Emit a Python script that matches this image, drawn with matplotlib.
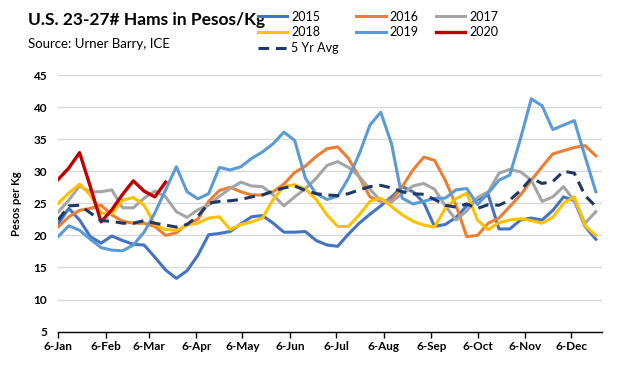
import matplotlib
matplotlib.use("Agg")
import matplotlib.pyplot as plt
import matplotlib.dates as mdates
import pandas as pd

plt.rcParams['font.family'] = ['Lato', 'DejaVu Sans']

dates = pd.date_range("2019-01-06", periods=51, freq="7D")

y2015 = [21.8, 24.2, 22.4, 19.8, 18.8, 19.9, 19.2, 18.6, 18.5, 16.6, 14.6, 13.3, 14.5, 16.9, 20.1, 20.3, 20.6,
         21.8, 22.9, 23.1, 21.9, 20.5, 20.5, 20.6, 19.2, 18.5, 18.3, 20.2, 21.9, 23.3, 24.6, 26.0, 27.6, 26.8,
         25.1, 21.4, 21.7, 22.8, 24.6, 25.6, 26.3, 21.0, 21.0, 22.4, 22.7, 22.4, 23.9, 26.0, 25.4, 21.4, 19.4]
y2016 = [21.3, 22.9, 23.9, 24.2, 24.7, 23.2, 22.2, 21.9, 21.9, 21.4, 20.0, 20.4, 21.8, 22.5, 25.3, 27.0, 27.5,
         26.8, 26.3, 26.3, 26.8, 28.0, 29.8, 30.8, 32.3, 33.5, 33.8, 32.0, 29.1, 26.0, 25.3, 25.5, 27.6, 30.2,
         32.2, 31.7, 28.6, 24.7, 19.8, 20.0, 21.9, 22.7, 24.5, 26.3, 28.6, 30.7, 32.7, 33.2, 33.7, 34.0, 32.4]
y2017 = [23.6, 25.5, 27.7, 26.8, 26.8, 27.1, 24.3, 24.3, 25.8, 26.9, 26.0, 23.7, 22.8, 24.0, 24.7, 26.1, 27.3,
         28.3, 27.7, 27.6, 26.3, 24.6, 26.0, 27.3, 28.9, 30.9, 31.5, 30.6, 29.2, 27.2, 25.4, 25.2, 26.5, 27.7,
         28.1, 27.2, 24.6, 22.4, 23.8, 25.9, 26.8, 29.7, 30.3, 29.9, 28.6, 25.3, 26.0, 27.6, 25.4, 21.9, 23.7]
y2018 = [25.0, 26.6, 28.0, 26.3, 23.5, 23.4, 25.5, 25.9, 24.7, 21.7, 20.9, 20.8, 21.6, 21.9, 22.7, 22.9, 20.9,
         21.7, 22.1, 22.7, 25.6, 27.6, 27.9, 27.2, 25.6, 23.2, 21.4, 21.4, 23.2, 25.3, 25.8, 24.5, 23.2, 22.2,
         21.6, 21.3, 24.2, 25.7, 26.6, 22.4, 20.9, 22.0, 22.4, 22.6, 22.3, 21.9, 22.8, 25.0, 26.0, 21.5, 20.0]
y2019 = [19.8, 21.5, 20.8, 19.4, 18.1, 17.7, 17.6, 18.5, 20.5, 23.5, 27.1, 30.7, 26.8, 25.7, 26.5, 30.6, 30.2,
         30.7, 32.0, 33.0, 34.3, 36.1, 34.8, 28.9, 26.5, 25.6, 26.1, 28.9, 32.7, 37.2, 39.2, 34.3, 25.8, 24.9,
         25.3, 25.8, 25.8, 27.1, 27.3, 24.8, 26.6, 28.6, 29.4, 35.1, 41.3, 40.2, 36.5, 37.2, 37.9, 32.3, 26.8]
y2020 = [28.7, 30.5, 32.9, 27.6, 22.1, 24.0, 26.4, 28.5, 26.9, 26.0, 28.3]
avg5 = [22.4, 24.6, 24.7, 23.5, 22.3, 22.2, 21.9, 21.9, 22.3, 21.9, 21.6, 21.3, 21.7, 23.0, 25.0, 25.3, 25.4,
        25.6, 26.0, 26.3, 26.9, 27.4, 27.7, 27.0, 26.5, 26.3, 26.2, 26.5, 27.1, 27.6, 27.8, 27.4, 26.8, 26.5,
        26.4, 25.6, 24.7, 24.4, 24.9, 24.2, 24.8, 24.7, 25.5, 27.0, 28.9, 28.1, 28.4, 30.0, 29.7, 26.2, 24.5]

fig = plt.figure(figsize=(6.31, 3.66), dpi=100)
ax = fig.add_axes([0.092, 0.094, 0.862, 0.701])

lw = 2.2
l15, = ax.plot(dates, y2015, color="#4472C4", lw=lw, label="2015")
l16, = ax.plot(dates, y2016, color="#ED7D31", lw=lw, label="2016")
l17, = ax.plot(dates, y2017, color="#A5A5A5", lw=lw, label="2017")
l18, = ax.plot(dates, y2018, color="#FFC000", lw=lw, label="2018")
l19, = ax.plot(dates, y2019, color="#5B9BD5", lw=lw, label="2019")
l20, = ax.plot(dates[:len(y2020)], y2020, color="#C00000", lw=2.4, label="2020")
lav, = ax.plot(dates, avg5, color="#203864", lw=2.2, ls=(0, (3.5, 2.2)), label="5 Yr Avg")

ax.set_ylim(5, 45)
ax.set_yticks(range(5, 50, 5))
ax.set_xlim(dates[0], pd.Timestamp("2019-12-26"))
ax.xaxis.set_major_locator(mdates.MonthLocator(bymonthday=6))
ax.xaxis.set_major_formatter(mdates.DateFormatter("%-d-%b"))

ax.grid(axis="y", color="#D9D9D9", lw=1)
ax.set_axisbelow(True)
for s in ["top", "right", "left"]:
    ax.spines[s].set_visible(False)
ax.spines["bottom"].set_color("black")
ax.spines["bottom"].set_linewidth(1)
ax.tick_params(axis="y", length=0, pad=8, labelsize=8.5)
ax.tick_params(axis="x", direction="out", length=4, width=1, color="black", pad=2.5, labelsize=8.5)
for t in ax.get_xticklabels() + ax.get_yticklabels():
    t.set_fontweight("bold")

ax.set_ylabel("Pesos per Kg", fontsize=8, fontweight="bold", labelpad=8)

fig.text(0.044, 0.945, "U.S. 23-27# Hams in Pesos/Kg", fontsize=12.5, fontweight="bold", va="center", ha="left")
fig.text(0.044, 0.880, "Source: Urner Barry, ICE", fontsize=9.5, va="center", ha="left")

handles = [l15, l18, lav, l16, l19, l17, l20]
fig.legend(handles=handles, labels=[h.get_label() for h in handles], ncol=3, loc="upper left",
           bbox_to_anchor=(0.395, 0.995), frameon=False, fontsize=9, handlelength=2.35,
           handletextpad=0.3, columnspacing=1.4, labelspacing=0.3, borderpad=0.2)

fig.savefig("out.png", dpi=100)
